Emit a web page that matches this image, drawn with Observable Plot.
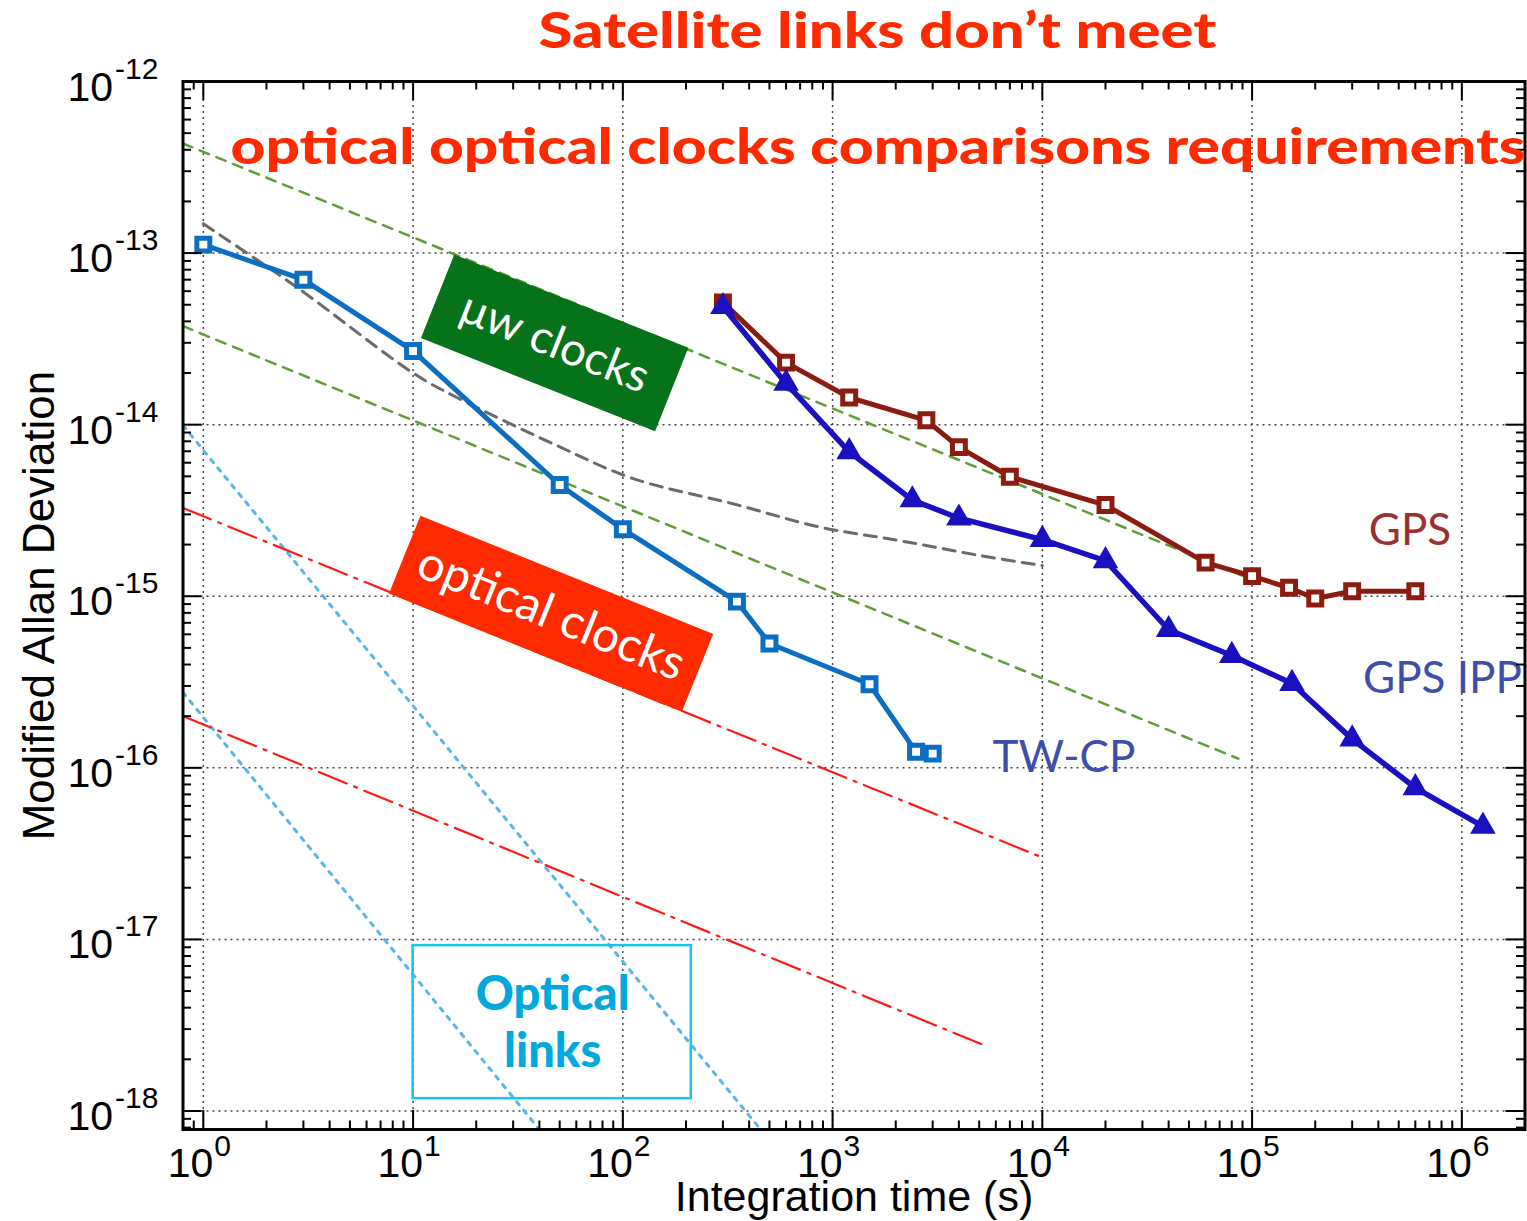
<!DOCTYPE html>
<html>
<head>
<meta charset="utf-8">
<script src="https://cdn.jsdelivr.net/npm/d3@7"></script>
<script src="https://cdn.jsdelivr.net/npm/@observablehq/plot@0.6"></script>
<style>
  body { margin: 0; background: #fff; }
  #chart svg { display: block; }
</style>
</head>
<body>
<div id="chart"></div>
<script>
// ---------------- data ----------------
const twcpTau   = [1, 3, 10, 50, 100, 350, 500, 1500, 2500, 3000];
const twcpSigma = [1.12e-13, 7.0e-14, 2.69e-14, 4.45e-15, 2.46e-15, 9.3e-16, 5.3e-16, 3.07e-16, 1.24e-16, 1.21e-16];

const gpsTau   = [300, 600, 1200, 2800, 4000, 7000, 20000, 60000, 100000, 150000, 200000, 300000, 600000];
const gpsSigma = [5.16e-14, 2.30e-14, 1.44e-14, 1.06e-14, 7.4e-15, 4.97e-15, 3.40e-15, 1.57e-15, 1.31e-15, 1.12e-15, 9.7e-16, 1.07e-15, 1.07e-15];

const ippTau   = [300, 600, 1200, 2400, 4000, 10000, 20000, 40000, 80000, 155000, 300000, 600000, 1260000];
const ippSigma = [4.87e-14, 1.74e-14, 6.95e-15, 3.64e-15, 2.85e-15, 2.14e-15, 1.61e-15, 6.38e-16, 4.51e-16, 3.10e-16, 1.47e-16, 7.65e-17, 4.56e-17];

// reference (requirement) lines
const greenUpperTau = [0.8, 1e5],   greenUpperSigma = [4.35e-13, 1.25e-15];
const greenLowerTau = [0.8, 86000], greenLowerSigma = [3.75e-14, 1.13e-16];
const grayTau   = [1, 2.8, 10, 16, 48, 112, 335, 870, 2080, 5000, 10000];
const graySigma = [1.48e-13, 6.3e-14, 2.0e-14, 1.45e-14, 7.6e-15, 4.85e-15, 3.46e-15, 2.53e-15, 2.11e-15, 1.73e-15, 1.51e-15];
const redUpperTau = [0.8, 10000], redUpperSigma = [3.27e-15, 3.0e-17];
const redLowerTau = [0.8, 5300],  redLowerSigma = [2.0e-16, 2.41e-18];
const cyanUpperTau = [0.8, 450], cyanUpperSigma = [9.9e-15, 7.9e-19];
const cyanLowerTau = [0.8, 40],  cyanLowerSigma = [2.75e-16, 7.8e-19];

// axis ticks
const xDecades  = [1, 10, 100, 1e3, 1e4, 1e5, 1e6];
const xExponents = ["0", "1", "2", "3", "4", "5", "6"];
const yDecades  = [1e-12, 1e-13, 1e-14, 1e-15, 1e-16, 1e-17, 1e-18];
const yExponents = ["-12", "-13", "-14", "-15", "-16", "-17", "-18"];

// annotations
const boxLabels  = ["μw clocks", "optical clocks"];
const boxTau1    = [13.09, 9.12];
const boxSigma1  = [5.60e-14, 1.747e-15];
const boxTau2    = [171.0, 227.1];
const boxSigma2  = [1.603e-14, 3.578e-16];
const boxColors  = ["#06721A", "#FF2A00"];

const seriesLabels = ["GPS", "GPS IPP", "TW-CP"];
const labelTau     = [3.6e5, 3.38e5, 5780];
const labelSigma   = [1.98e-15, 2.72e-16, 9.44e-17];
const labelColors  = ["#9B3030", "#3E4EAA", "#3E4EAA"];

const linksBoxTau   = [10, 212];
const linksBoxSigma = [1.18e-18, 9.2e-18];
const linksText     = ["Optical", "links"];
const linksTextTau  = [46.3, 46.3];
const linksTextSigma = [3.86e-18, 1.80e-18];

const title1 = "Satellite links don’t meet";
const title2 = "optical optical clocks comparisons requirements";

// ---------------- build tables ----------------
const zip = (t, s) => t.map((d, i) => ({tau: d, sigma: s[i]}));
const twcp = zip(twcpTau, twcpSigma);
const gps = zip(gpsTau, gpsSigma);
const ipp = zip(ippTau, ippSigma);
const boxes = boxLabels.map((l, i) => ({label: l, t1: boxTau1[i], s1: boxSigma1[i], t2: boxTau2[i], s2: boxSigma2[i], color: boxColors[i],
  tm: Math.sqrt(boxTau1[i] * boxTau2[i]), sm: Math.sqrt(boxSigma1[i] * boxSigma2[i])}));
const labels = seriesLabels.map((l, i) => ({label: l, tau: labelTau[i], sigma: labelSigma[i], color: labelColors[i]}));
const linksLabels = linksText.map((l, i) => ({label: l, tau: linksTextTau[i], sigma: linksTextSigma[i]}));

const W = 1527, H = 1221;
const mL = 182.5, mR = 2.5, mT = 81, mB = 92;
const innerW = W - mL - mR, innerH = H - mT - mB;
const xDomain = [0.8, 2e6], yDomain = [7.8e-19, 1e-12];

const mult = [2, 3, 4, 5, 6, 7, 8, 9];
const xMinor = [0.1, ...xDecades].flatMap(d => mult.map(k => k * d)).filter(v => v > xDomain[0] * 1.001 && v < xDomain[1] * 0.999);
const yMinor = [1e-19, ...yDecades].flatMap(d => mult.map(k => k * d)).filter(v => v > yDomain[0] * 1.001 && v < yDomain[1] * 0.999);
const yGrid = yDecades.filter(v => v < yDomain[1]);

const axisFont = "Liberation Sans, Arial, Helvetica, sans-serif";
const annFont = "Lato, 'Open Sans', sans-serif";
const MAJ = 19, MIN = 8.5;

const svg = Plot.plot({
  width: W, height: H,
  marginLeft: mL, marginRight: mR, marginTop: mT, marginBottom: mB,
  x: {type: "log", domain: xDomain, axis: null},
  y: {type: "log", domain: yDomain, axis: null},
  style: {fontFamily: axisFont, background: "white", overflow: "visible"},
  marks: [
    // grid
    Plot.ruleX(xDecades, {x: d => d, stroke: "#444", strokeWidth: 1.5, strokeDasharray: "2,4"}),
    Plot.ruleY(yGrid, {y: d => d, stroke: "#444", strokeWidth: 1.5, strokeDasharray: "2,4"}),
    // reference lines
    Plot.line(zip(cyanUpperTau, cyanUpperSigma), {x: "tau", y: "sigma", stroke: "#5AB6E6", strokeWidth: 3, strokeDasharray: "4,7", clip: true}),
    Plot.line(zip(cyanLowerTau, cyanLowerSigma), {x: "tau", y: "sigma", stroke: "#5AB6E6", strokeWidth: 3, strokeDasharray: "4,7", clip: true}),
    Plot.line(zip(redUpperTau, redUpperSigma), {x: "tau", y: "sigma", stroke: "#FF1A1A", strokeWidth: 2.2, strokeDasharray: "30,8,3,8", clip: true}),
    Plot.line(zip(redLowerTau, redLowerSigma), {x: "tau", y: "sigma", stroke: "#FF1A1A", strokeWidth: 2.2, strokeDasharray: "30,8,3,8", clip: true}),
    Plot.line(zip(greenUpperTau, greenUpperSigma), {x: "tau", y: "sigma", stroke: "#5E9E34", strokeWidth: 2.5, strokeDasharray: "10,8", clip: true}),
    Plot.line(zip(greenLowerTau, greenLowerSigma), {x: "tau", y: "sigma", stroke: "#5E9E34", strokeWidth: 2.5, strokeDasharray: "10,8", clip: true}),
    Plot.line(zip(grayTau, graySigma), {x: "tau", y: "sigma", stroke: "#6A6A6A", strokeWidth: 3, strokeDasharray: "12,8", curve: "catmull-rom"}),
    // annotation boxes (rotated bands)
    Plot.link(boxes.slice(0, 1), {x1: "t1", y1: "s1", x2: "t2", y2: "s2", stroke: "color", strokeWidth: 90, strokeLinecap: "butt"}),
    Plot.link(boxes.slice(1, 2), {x1: "t1", y1: "s1", x2: "t2", y2: "s2", stroke: "color", strokeWidth: 84, strokeLinecap: "butt"}),
    Plot.text(boxes.slice(0, 1), {x: "tm", y: "sm", text: "label", rotate: 21.7, fill: "white", fontSize: 46, fontFamily: annFont, lineAnchor: "middle"}),
    Plot.text(boxes.slice(1, 2), {x: "tm", y: "sm", text: "label", rotate: 22.0, fill: "white", fontSize: 48, fontFamily: annFont, lineAnchor: "middle"}),
    // optical links box
    Plot.rect([0], {x1: () => linksBoxTau[0], x2: () => linksBoxTau[1], y1: () => linksBoxSigma[0], y2: () => linksBoxSigma[1], fill: "none", stroke: "#18C4F0", strokeWidth: 2.5}),
    Plot.text(linksLabels, {x: "tau", y: "sigma", text: "label", fill: "#00A8DE", fontSize: 47, fontWeight: 900, fontFamily: annFont, lineAnchor: "bottom"}),
    // data series
    Plot.line(twcp, {x: "tau", y: "sigma", stroke: "#0B6EC1", strokeWidth: 5}),
    Plot.dot(twcp, {x: "tau", y: "sigma", symbol: "square", r: 7.3, fill: "white", stroke: "#0B6EC1", strokeWidth: 5}),
    Plot.line(gps, {x: "tau", y: "sigma", stroke: "#8C1B10", strokeWidth: 5}),
    Plot.dot(gps, {x: "tau", y: "sigma", symbol: "square", r: 7.3, fill: "white", stroke: "#8C1B10", strokeWidth: 5}),
    Plot.line(ipp, {x: "tau", y: "sigma", stroke: "#1B10C0", strokeWidth: 5.5}),
    Plot.dot(ipp, {x: "tau", y: "sigma", symbol: "triangle", r: 9.5, fill: "#1B10C0", stroke: "none"}),
    // series labels
    Plot.text(labels, {x: "tau", y: "sigma", text: "label", fill: "color", fontSize: 44, fontFamily: annFont, textAnchor: "start", lineAnchor: "bottom"}),
    // frame and inward ticks
    Plot.frame({stroke: "black", strokeWidth: 3}),
    Plot.ruleX(xDecades, {x: d => d, insetTop: innerH - MAJ, stroke: "black", strokeWidth: 2}),
    Plot.ruleX(xDecades, {x: d => d, insetBottom: innerH - MAJ, stroke: "black", strokeWidth: 2}),
    Plot.ruleX(xMinor, {x: d => d, insetTop: innerH - MIN, stroke: "black", strokeWidth: 2}),
    Plot.ruleX(xMinor, {x: d => d, insetBottom: innerH - MIN, stroke: "black", strokeWidth: 2}),
    Plot.ruleY(yDecades, {y: d => d, insetRight: innerW - MAJ, stroke: "black", strokeWidth: 2}),
    Plot.ruleY(yDecades, {y: d => d, insetLeft: innerW - MAJ, stroke: "black", strokeWidth: 2}),
    Plot.ruleY(yMinor, {y: d => d, insetRight: innerW - MIN, stroke: "black", strokeWidth: 2}),
    Plot.ruleY(yMinor, {y: d => d, insetLeft: innerW - MIN, stroke: "black", strokeWidth: 2}),
    // tick labels
    Plot.text(xDecades, {x: d => d, frameAnchor: "bottom", text: () => "10", textAnchor: "end", lineAnchor: "bottom", dx: 10, dy: 47, fontSize: 41, fill: "black"}),
    Plot.text(xDecades, {x: d => d, frameAnchor: "bottom", text: (d, i) => xExponents[i], textAnchor: "start", lineAnchor: "bottom", dx: 11, dy: 26, fontSize: 30, fill: "black"}),
    Plot.text(yDecades, {y: d => d, frameAnchor: "left", text: () => "10", textAnchor: "end", lineAnchor: "bottom", dx: -70, dy: 19, fontSize: 41, fill: "black"}),
    Plot.text(yDecades, {y: d => d, frameAnchor: "left", text: (d, i) => yExponents[i], textAnchor: "start", lineAnchor: "bottom", dx: -68, dy: -3, fontSize: 30, fill: "black"}),
    // axis labels
    Plot.text(["Integration time (s)"], {frameAnchor: "bottom", text: d => d, textAnchor: "middle", lineAnchor: "bottom", dy: 81, fontSize: 43, fill: "black"}),
    Plot.text(["Modified Allan Deviation"], {frameAnchor: "left", text: d => d, rotate: -90, textAnchor: "middle", lineAnchor: "bottom", dx: 53 - mL, fontSize: 44, fill: "black"}),
    // titles
    Plot.text([title1], {frameAnchor: "top", text: d => d, textAnchor: "middle", lineAnchor: "bottom", dx: 877 - (mL + innerW / 2), dy: 47 - mT, fontSize: 49, fontWeight: 900, fontFamily: annFont, fill: "#FF2A00"}),
    Plot.text([title2], {frameAnchor: "top-left", text: d => d, textAnchor: "start", lineAnchor: "bottom", dx: 230 - mL, dy: 163 - mT, fontSize: 49, fontWeight: 900, fontFamily: annFont, fill: "#FF2A00"})
  ]
});

const fits = {[title1]: 678, [title2]: 1295};
d3.select(svg).selectAll("text").each(function () {
  const t = this.textContent;
  if (fits[t]) {
    this.setAttribute("textLength", fits[t]);
    this.setAttribute("lengthAdjust", "spacingAndGlyphs");
  }
});
document.getElementById("chart").appendChild(svg);
</script>
</body>
</html>
